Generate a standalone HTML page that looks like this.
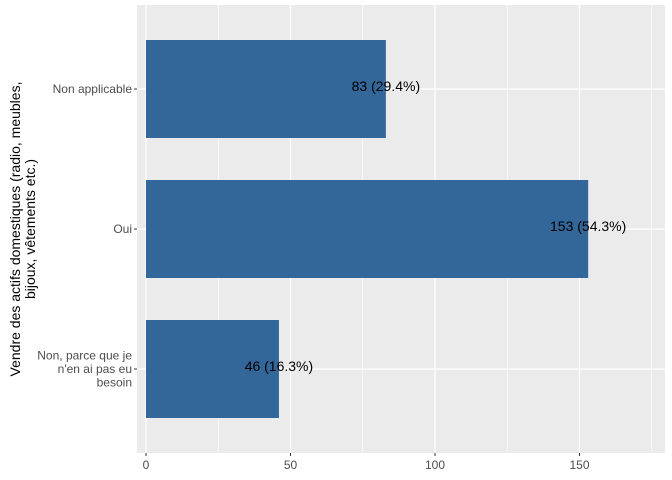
<!DOCTYPE html>
<html><head><meta charset="utf-8"><style>body{margin:0;background:#fff}svg{display:block;font-family:"Liberation Sans",sans-serif}</style></head>
<body>
<svg id="c" width="672" height="480"></svg>
<script>
const categories=["Non applicable","Oui","Non, parce que je|n'en ai pas eu|besoin"];
const counts=[83,153,46];
const labels=["83 (29.4%)","153 (54.3%)","46 (16.3%)"];
const xTicks=[0,50,100,150];
const xMinor=[25,75,125,175];
const ns="http://www.w3.org/2000/svg",svg=document.getElementById('c');
const L=146,R=665,T=5,B=453,k=2.89;
const x=v=>L+v*k;
const band=(B-T)/3.2;
function yC(i){return T+band*(0.6+i);}
function mk(t,a,p){const e=document.createElementNS(ns,t);for(const k in a)e.setAttribute(k,a[k]);(p||svg).appendChild(e);return e;}
const bg=mk('rect',{x:L-9,y:T,width:R-L+9,height:B-T,fill:'#ebebeb'});


xMinor.forEach(v=>{const l=mk('line',{x1:x(v),x2:x(v),y1:T,y2:B,stroke:'#fff','stroke-width':0.6});});
xTicks.forEach(v=>{const l=mk('line',{x1:x(v),x2:x(v),y1:T,y2:B,stroke:'#fff','stroke-width':1.2});
const tk=mk('line',{x1:x(v),x2:x(v),y1:B,y2:B+3,stroke:'#333'});
const t=mk('text',{x:x(v),y:B+16,'text-anchor':'middle','font-size':12,fill:'#4d4d4d'});t.textContent=v;});
categories.forEach((c,i)=>{const cy=yC(i);
const g=mk('line',{x1:L-9,x2:R,y1:cy,y2:cy,stroke:'#fff','stroke-width':1.2});
const r=mk('rect',{x:x(0),y:cy-band*0.35,width:x(counts[i])-x(0),height:band*0.7,fill:'#336699'});
const lt=mk('text',{x:x(counts[i]),y:cy+2,'text-anchor':'middle','font-size':14,fill:'#000'});lt.textContent=labels[i];
const tk=mk('line',{x1:L-12,x2:L-9,y1:cy,y2:cy,stroke:'#333'});
const parts=c.split('|');const t=mk('text',{x:L-14,'text-anchor':'end','font-size':12,fill:'#4d4d4d'});
parts.forEach((p,j)=>{const s=mk('tspan',{x:L-14,y:cy+4+(j-(parts.length-1)/2)*13.5},t);s.textContent=p;});});
const yt=mk('text',{transform:'translate(20,229) rotate(-90)','text-anchor':'middle','font-size':14,fill:'#000'});

[["Vendre des actifs domestiques (radio, meubles,",0],["bijoux, vêtements etc.)",15]].forEach(([s,dy])=>{const ts=mk('tspan',{x:0,y:dy},yt);ts.textContent=s;});
</script>
</body></html>
